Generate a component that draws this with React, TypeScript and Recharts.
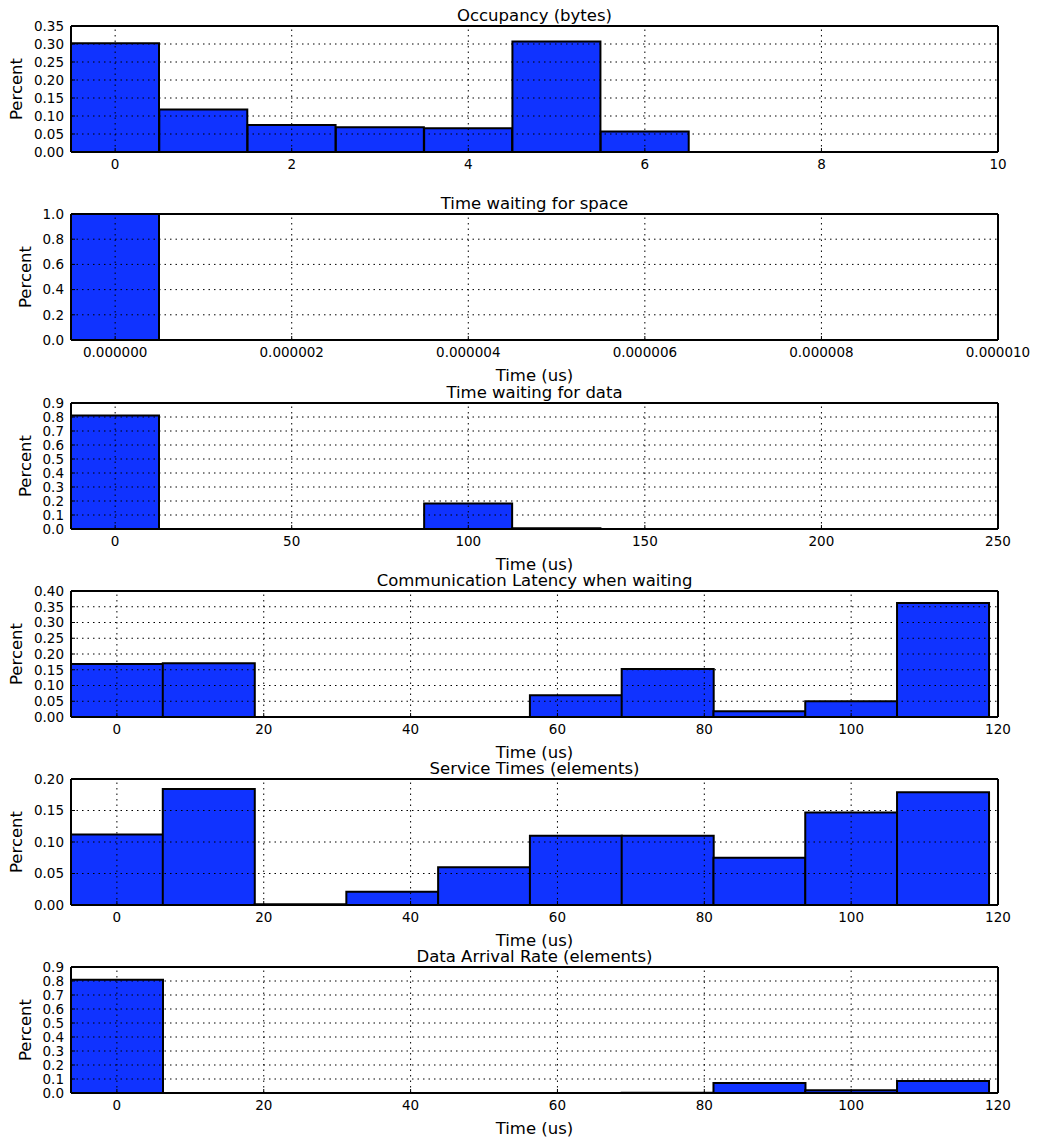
import React from "react";
import { BarChart, Bar, XAxis, YAxis, ReferenceLine } from "recharts";

// bin centres and fractions for each histogram
const occupancyBins = [0, 1, 2, 3, 4, 5, 6, 7, 8, 9];
const occupancyPct = [0.302, 0.118, 0.075, 0.069, 0.066, 0.307, 0.057, 0, 0, 0];
const occupancyXTicks = [0, 2, 4, 6, 8, 10];
const occupancyYTicks = [0, 0.05, 0.1, 0.15, 0.2, 0.25, 0.3, 0.35];

const spaceBins = [0, 1e-6, 2e-6, 3e-6, 4e-6, 5e-6, 6e-6, 7e-6, 8e-6, 9e-6];
const spacePct = [1.0, 0, 0, 0, 0, 0, 0, 0, 0, 0];
const spaceXTicks = [0, 2e-6, 4e-6, 6e-6, 8e-6, 1e-5];
const spaceYTicks = [0, 0.2, 0.4, 0.6, 0.8, 1.0];

const dataWaitBins = [0, 25, 50, 75, 100, 125, 150, 175, 200, 225];
const dataWaitPct = [0.81, 0, 0, 0, 0.182, 0.005, 0, 0, 0, 0];
const dataWaitXTicks = [0, 50, 100, 150, 200, 250];
const tenthTicks = [0, 0.1, 0.2, 0.3, 0.4, 0.5, 0.6, 0.7, 0.8, 0.9];

const timeBins = [0, 12.5, 25, 37.5, 50, 62.5, 75, 87.5, 100, 112.5];
const timeXTicks = [0, 20, 40, 60, 80, 100, 120];

const latencyPct = [0.168, 0.171, 0, 0, 0, 0.069, 0.152, 0.018, 0.05, 0.362];
const latencyYTicks = [0, 0.05, 0.1, 0.15, 0.2, 0.25, 0.3, 0.35, 0.4];

const servicePct = [0.112, 0.184, 0.001, 0.021, 0.06, 0.11, 0.11, 0.075, 0.147, 0.179];
const serviceYTicks = [0, 0.05, 0.1, 0.15, 0.2];

const arrivalPct = [0.809, 0, 0, 0, 0, 0, 0.002, 0.071, 0.019, 0.086];

const FONT = "'DejaVu Sans', sans-serif";
const BLUE = "#1033ff";
const PLOT_LEFT = 71;
const PLOT_RIGHT = 998;
const PLOT_H = 126;
const PAD_TOP = 12;
const W = 1039;
const CHART_H = PAD_TOP + PLOT_H + 30;

type PanelDef = {
  title: string;
  xLabel?: string;
  bins: number[];
  pct: number[];
  xDomain: [number, number];
  xTicks: number[];
  yTicks: number[];
  xDigits: number;
  yDigits: number;
  top: number;
  percentX: number;
};

const panels: PanelDef[] = [
  { title: "Occupancy (bytes)", bins: occupancyBins, pct: occupancyPct, xDomain: [-0.5, 10], xTicks: occupancyXTicks, yTicks: occupancyYTicks, xDigits: 0, yDigits: 2, top: 26, percentX: 16.5 },
  { title: "Time waiting for space", xLabel: "Time (us)", bins: spaceBins, pct: spacePct, xDomain: [-5e-7, 1e-5], xTicks: spaceXTicks, yTicks: spaceYTicks, xDigits: 6, yDigits: 1, top: 214, percentX: 25.5 },
  { title: "Time waiting for data", xLabel: "Time (us)", bins: dataWaitBins, pct: dataWaitPct, xDomain: [-12.5, 250], xTicks: dataWaitXTicks, yTicks: tenthTicks, xDigits: 0, yDigits: 1, top: 403, percentX: 25.5 },
  { title: "Communication Latency when waiting", xLabel: "Time (us)", bins: timeBins, pct: latencyPct, xDomain: [-6.25, 120], xTicks: timeXTicks, yTicks: latencyYTicks, xDigits: 0, yDigits: 2, top: 591, percentX: 16.5 },
  { title: "Service Times (elements)", xLabel: "Time (us)", bins: timeBins, pct: servicePct, xDomain: [-6.25, 120], xTicks: timeXTicks, yTicks: serviceYTicks, xDigits: 0, yDigits: 2, top: 779, percentX: 16.5 },
  { title: "Data Arrival Rate (elements)", xLabel: "Time (us)", bins: timeBins, pct: arrivalPct, xDomain: [-6.25, 120], xTicks: timeXTicks, yTicks: tenthTicks, xDigits: 0, yDigits: 1, top: 967, percentX: 25.5 },
];

const tickFont = { fontSize: 13.5, fill: "#000", fontFamily: FONT };
const frame = { stroke: "#000", strokeWidth: 2 };
const DOTS = "1.5 4";

function Panel({ p }: { p: PanelDef }) {
  const rows = p.bins.map((x, i) => ({ x, pct: p.pct[i] }));
  const yMax = p.yTicks[p.yTicks.length - 1];
  return (
    <div style={{ position: "absolute", left: 0, top: p.top - PAD_TOP, width: W, height: CHART_H }}>
      <BarChart
        width={W}
        height={CHART_H}
        data={rows}
        barCategoryGap={0}
        barGap={0}
        margin={{ top: PAD_TOP - 1, right: W - PLOT_RIGHT - 1, bottom: 0, left: PLOT_LEFT - 60 }}
      >
        <XAxis
          dataKey="x"
          type="number"
          domain={p.xDomain}
          ticks={p.xTicks}
          allowDataOverflow
          interval={0}
          height={30}
          tickSize={-4}
          tickMargin={11}
          tick={tickFont}
          tickLine={{ stroke: "#000" }}
          axisLine={frame}
          tickFormatter={(v: number) => v.toFixed(p.xDigits)}
        />
        <XAxis
          xAxisId="top"
          orientation="top"
          type="number"
          domain={p.xDomain}
          ticks={p.xTicks}
          allowDataOverflow
          interval={0}
          height={1}
          tickSize={-4}
          tick={false}
          tickLine={{ stroke: "#000" }}
          axisLine={frame}
        />
        <YAxis
          type="number"
          domain={[0, yMax]}
          ticks={p.yTicks}
          allowDataOverflow
          interval={0}
          width={60}
          tickSize={-4}
          tickMargin={11}
          tick={tickFont}
          tickLine={{ stroke: "#000" }}
          axisLine={frame}
          tickFormatter={(v: number) => v.toFixed(p.yDigits)}
        />
        <YAxis
          yAxisId="right"
          orientation="right"
          type="number"
          domain={[0, yMax]}
          ticks={p.yTicks}
          allowDataOverflow
          interval={0}
          width={1}
          tickSize={-4}
          tick={false}
          tickLine={{ stroke: "#000" }}
          axisLine={frame}
        />
        <Bar dataKey="pct" fill={BLUE} stroke="#000" strokeWidth={2} isAnimationActive={false} />
      </BarChart>
      {/* second, transparent chart on the same plot box so the dotted grid lands above the bars */}
      <div style={{ position: "absolute", left: 0, top: 0, pointerEvents: "none" }}>
        <BarChart
          width={W}
          height={CHART_H}
          data={rows}
          margin={{ top: PAD_TOP, right: W - PLOT_RIGHT, bottom: 30, left: PLOT_LEFT }}
        >
          <XAxis dataKey="x" type="number" domain={p.xDomain} ticks={p.xTicks} allowDataOverflow hide />
          <YAxis type="number" domain={[0, yMax]} ticks={p.yTicks} allowDataOverflow hide />
          {p.xTicks.map((t) => (
            <ReferenceLine key={"gx" + t} x={t} stroke="#000" strokeWidth={1} strokeDasharray={DOTS} />
          ))}
          {p.yTicks.map((t) => (
            <ReferenceLine key={"gy" + t} y={t} stroke="#000" strokeWidth={1} strokeDasharray={DOTS} />
          ))}
        </BarChart>
      </div>
    </div>
  );
}

const textBase: React.CSSProperties = {
  position: "absolute",
  fontFamily: FONT,
  fontSize: 16.5,
  lineHeight: "20px",
  color: "#000",
  whiteSpace: "nowrap",
};

export default function App() {
  return (
    <div style={{ position: "absolute", left: 0, top: 0, width: W, height: 1143, background: "#fff", fontFamily: FONT }}>
      {panels.map((p) => (
        <Panel key={p.title} p={p} />
      ))}
      {panels.map((p) => (
        <div key={"t" + p.title} style={{ ...textBase, left: PLOT_LEFT, width: PLOT_RIGHT - PLOT_LEFT, textAlign: "center", top: p.top - 20 }}>
          {p.title}
        </div>
      ))}
      {panels.map((p) =>
        p.xLabel ? (
          <div key={"x" + p.title} style={{ ...textBase, left: PLOT_LEFT, width: PLOT_RIGHT - PLOT_LEFT, textAlign: "center", top: p.top + PLOT_H + 26 }}>
            {p.xLabel}
          </div>
        ) : null
      )}
      {panels.map((p) => (
        <div
          key={"y" + p.title}
          style={{ ...textBase, left: p.percentX, top: p.top + PLOT_H / 2, transform: "translate(-50%, -50%) rotate(-90deg)" }}
        >
          Percent
        </div>
      ))}
    </div>
  );
}
